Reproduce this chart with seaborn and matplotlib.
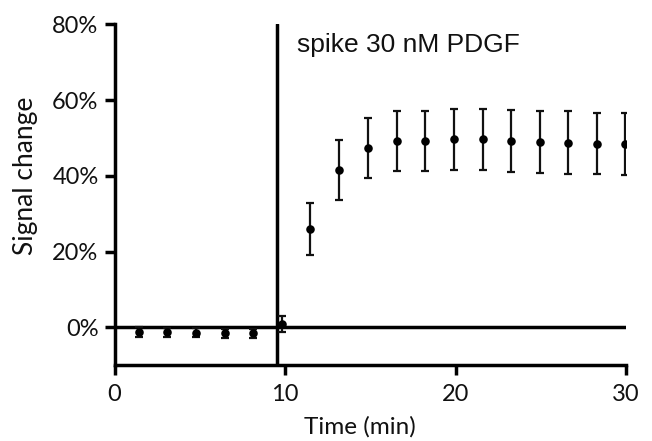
import matplotlib
matplotlib.use("Agg")
import matplotlib.pyplot as plt
import seaborn as sns
import numpy as np
import pandas as pd
from matplotlib.ticker import FuncFormatter

# Time points (min) and mean signal change (%) with SEM
time_min = [1.45, 3.09, 4.79, 6.47, 8.13, 9.85, 11.45, 13.17, 14.87, 16.55,
            18.23, 19.91, 21.59, 23.27, 24.93, 26.61, 28.28, 29.97]
signal_pct = [-1.2, -1.3, -1.4, -1.6, -1.5, 0.9, 26.0, 41.6, 47.4, 49.2,
              49.2, 49.6, 49.6, 49.3, 48.9, 48.8, 48.5, 48.3]
sem_pct = [1.2, 1.2, 1.2, 1.2, 1.2, 2.2, 6.8, 7.9, 7.9, 7.8,
           7.8, 8.0, 8.0, 8.2, 8.1, 8.2, 8.1, 8.2]

spike_time = 9.55
spike_label = "spike 30 nM PDGF"
x_ticks = [0, 10, 20, 30]
y_ticks = [0, 20, 40, 60, 80]

df = pd.DataFrame({"time": time_min, "signal": signal_pct, "sem": sem_pct})

sns.set_style("ticks")
plt.rcParams["font.family"] = ["Lato", "DejaVu Sans"]

fig = plt.figure(figsize=(6.52, 4.41), dpi=100)
ax = fig.add_axes([114.5 / 652, 1 - 365.3 / 441, (626 - 114.5) / 652, (365.3 - 24.3) / 441])

ax.errorbar(df["time"], df["signal"], yerr=df["sem"], fmt="none",
            ecolor="#111111", elinewidth=1.6, capsize=2.6, capthick=1.6, zorder=3)
sns.scatterplot(data=df, x="time", y="signal", ax=ax, color="black",
                s=38, edgecolor="black", linewidth=0, zorder=4, legend=False)

ax.axhline(0, color="black", lw=2.5, zorder=2)
ax.axvline(spike_time, color="black", lw=2.5, zorder=2)

ax.text(10.73, 72.6, spike_label, fontsize=19, va="baseline", ha="left",
        family=["Liberation Sans", "DejaVu Sans"], color="#111111")

ax.set_xlim(0, 30)
ax.set_ylim(-10, 80)
ax.set_xticks(x_ticks)
ax.set_yticks(y_ticks)
ax.yaxis.set_major_formatter(FuncFormatter(lambda v, p: f"{v:.0f}%"))

for side in ["top", "right"]:
    ax.spines[side].set_visible(False)
for side in ["left", "bottom"]:
    ax.spines[side].set_linewidth(2.5)
    ax.spines[side].set_color("black")

ax.tick_params(axis="both", which="major", length=7.5, width=2.5, labelsize=17,
               color="black", labelcolor="#111111", pad=4)
ax.tick_params(axis="x", pad=6)

ax.set_xlabel("Time (min)", fontsize=17.5, color="#111111")
ax.set_ylabel("Signal change", fontsize=19, color="#111111")
ax.xaxis.set_label_coords(0.48, -0.181)
ax.xaxis.label.set_va("center")
ax.yaxis.set_label_coords(-0.174, 0.556)
ax.yaxis.label.set_va("center")

fig.savefig("out.png", dpi=100)
